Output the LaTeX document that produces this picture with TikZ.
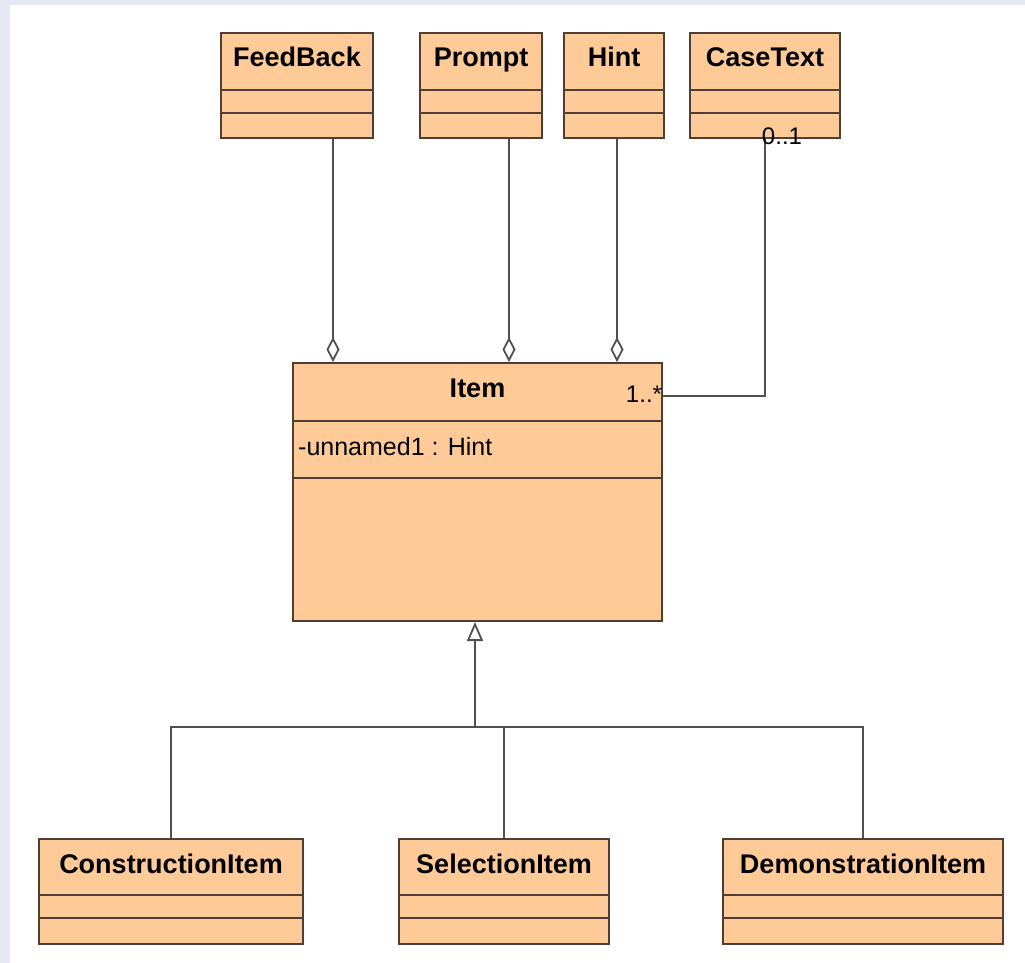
\documentclass[tikz,border=0pt]{standalone}
\usepackage{fontspec}
\setmainfont{Liberation Sans}
\usetikzlibrary{arrows.meta}

\definecolor{peach}{RGB}{253,202,152}
\definecolor{boxedge}{RGB}{78,62,52}
\definecolor{wire}{RGB}{80,80,80}
\definecolor{slidebg}{RGB}{230,233,244}

\tikzset{
  classbox/.style={draw=boxedge, fill=peach, line width=2pt, inner sep=0pt},
  classline/.style={draw=boxedge, line width=2pt},
  classname/.style={font=\fontsize{27}{32}\selectfont\bfseries, inner sep=0pt, anchor=base},
  attr/.style={font=\fontsize{25}{30}\selectfont, inner sep=0pt, anchor=west},
  mult/.style={font=\fontsize{24}{28}\selectfont, inner sep=0pt},
  aggr/.style={draw=wire, line width=1.8pt, -{Diamond[open, length=25pt, width=13pt]}},
  gen/.style={draw=wire, line width=1.8pt, -{Triangle[open, length=19pt, width=16pt]}},
  assoc/.style={draw=wire, line width=1.8pt}
}

% class box: name, x, y, width, height, line 1, line 2, title
\newcommand{\umlclass}[8]{%
  \node[classbox, minimum width=#4pt, minimum height=#5pt, anchor=north west] (#1) at (#2,#3) {};
  \draw[classline] ([yshift=-#6pt]#1.north west) -- ([yshift=-#6pt]#1.north east);
  \draw[classline] ([yshift=-#7pt]#1.north west) -- ([yshift=-#7pt]#1.north east);
  \node[classname] (#1-name) at ([yshift=-35pt]#1.north) {#8};
}

\begin{document}
\begin{tikzpicture}[x=1pt, y=-1pt]
  % slide background
  \fill[slidebg] (0,0) rectangle (1025,963);
  \fill[white] (10,5) rectangle (1025,963);
  \useasboundingbox (0,0) rectangle (1025,963);

  % top row
  \umlclass{feedback}{220}{32}{152}{105}{58}{81}{FeedBack}
  \umlclass{prompt}{419}{32}{122}{105}{58}{81}{Prompt}
  \umlclass{hint}{563}{32}{100}{105}{58}{81}{Hint}
  \umlclass{casetext}{689}{32}{150}{105}{58}{81}{CaseText}

  % main class
  \umlclass{item}{292}{362}{369}{258}{59}{116}{Item}
  \node[attr] (item-attr) at ([xshift=6pt, yshift=-85pt]item.north west) {-unnamed1 : Hint};

  % subclasses
  \umlclass{construction}{38}{838}{264}{105}{57}{80}{ConstructionItem}
  \umlclass{selection}{398}{838}{210}{105}{57}{80}{SelectionItem}
  \umlclass{demonstration}{722}{838}{280}{105}{57}{80}{DemonstrationItem}

  % aggregations
  \draw[aggr] (feedback.south -| 333,0) -- (item.north -| 333,0);
  \draw[aggr] (prompt.south -| 509,0) -- (item.north -| 509,0);
  \draw[aggr] (hint.south -| 617,0) -- (item.north -| 617,0);

  % association
  \draw[assoc] (casetext.south -| 765,0) |- (item.east |- 0,396);
  \node[mult] (mult-case) at (782,136) {0..1};
  \node[mult] (mult-item) at (644,394) {1..*};

  % generalization
  \coordinate (bus) at (475,727);
  \draw[gen] (bus) -- (item.south -| bus);
  \draw[assoc] (construction.north) |- (bus) -| (demonstration.north);
  \draw[assoc] (selection.north) -- (selection.north |- bus);
\end{tikzpicture}
\end{document}
